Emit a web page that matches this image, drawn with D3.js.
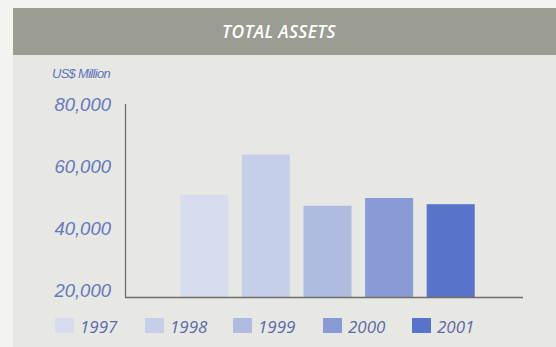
<!DOCTYPE html>
<html>
<head>
<meta charset="utf-8">
<script src="https://cdn.jsdelivr.net/npm/d3@7"></script>
<style>
  html, body { margin: 0; padding: 0; background: #f3f3ef; }
  svg { display: block; }
</style>
</head>
<body>
<div id="chart"></div>
<script>
// data
const years = ["1997", "1998", "1999", "2000", "2001"];
const totalAssets = [51000, 64000, 47500, 50000, 48000];
const yTicks = [20000, 40000, 60000, 80000];
const barColors = ["#d7ddee", "#c6cfe9", "#afbce0", "#889bd7", "#5873c9"];

const W = 556, H = 347;

const svg = d3.select("#chart").append("svg")
    .attr("width", W)
    .attr("height", H);

// panel + header band
svg.append("rect").attr("x", 13).attr("y", 8).attr("width", W - 13).attr("height", H - 8)
    .attr("fill", "#e7e8e4");
svg.append("rect").attr("x", 13).attr("y", 8).attr("width", W - 13).attr("height", 47)
    .attr("fill", "#9b9c92");
svg.append("text")
    .attr("x", 279).attr("y", 38)
    .attr("text-anchor", "middle")
    .attr("fill", "#ffffff")
    .style("font-family", "'Open Sans', sans-serif")
    .style("font-style", "italic")
    .style("font-weight", "600")
    .style("font-size", "17.5px")
    .style("letter-spacing", "0.3px")
    .text("TOTAL ASSETS");

// scales
const y = d3.scaleLinear().domain([20000, 80000]).range([291, 105]);
const baseY = 297;
const x = d3.scaleBand().domain(years).range([173.5, 481.5])
    .paddingInner(0.22).paddingOuter(0.11);

// y tick labels via axis
const yAxis = d3.axisLeft(y).tickValues(yTicks).tickSize(0).tickPadding(0)
    .tickFormat(d3.format(",d"));
const gy = svg.append("g").attr("transform", "translate(111,0)").call(yAxis);
gy.select(".domain").remove();
gy.selectAll("text")
    .attr("fill", "#6679bd")
    .style("font-family", "'Liberation Sans', Arial, sans-serif")
    .style("font-style", "italic")
    .style("font-size", "18.5px");

svg.append("text")
    .attr("x", 110).attr("y", 78)
    .attr("text-anchor", "end")
    .attr("fill", "#5f73bb")
    .style("font-family", "'Liberation Sans', Arial, sans-serif")
    .style("font-style", "italic")
    .style("font-size", "13px")
    .style("letter-spacing", "-0.7px")
    .text("US$ Million");

// bars
svg.append("g").selectAll("rect")
    .data(totalAssets)
    .join("rect")
    .attr("x", (d, i) => x(years[i]))
    .attr("y", d => y(d))
    .attr("width", x.bandwidth())
    .attr("height", d => baseY - y(d))
    .attr("fill", (d, i) => barColors[i]);

// axis lines
svg.append("line").attr("x1", 125.5).attr("x2", 125.5).attr("y1", 104).attr("y2", baseY)
    .attr("stroke", "#6e6e6a").attr("stroke-width", 1.3);
svg.append("line").attr("x1", 125).attr("x2", 523).attr("y1", baseY + 0.5).attr("y2", baseY + 0.5)
    .attr("stroke", "#6e6e6a").attr("stroke-width", 1.3);

// legend
const legendX = [55, 145, 233, 323, 412];
const lg = svg.append("g").selectAll("g")
    .data(years)
    .join("g")
    .attr("transform", (d, i) => `translate(${legendX[i]},318)`);
lg.append("rect").attr("width", 19).attr("height", 15)
    .attr("fill", (d, i) => barColors[i]);
lg.append("text")
    .attr("x", 25).attr("y", 15)
    .attr("fill", "#5b6ba8")
    .style("font-family", "'Open Sans', sans-serif")
    .style("font-style", "italic")
    .style("font-size", "17px")
    .text(d => d);
</script>
</body>
</html>
